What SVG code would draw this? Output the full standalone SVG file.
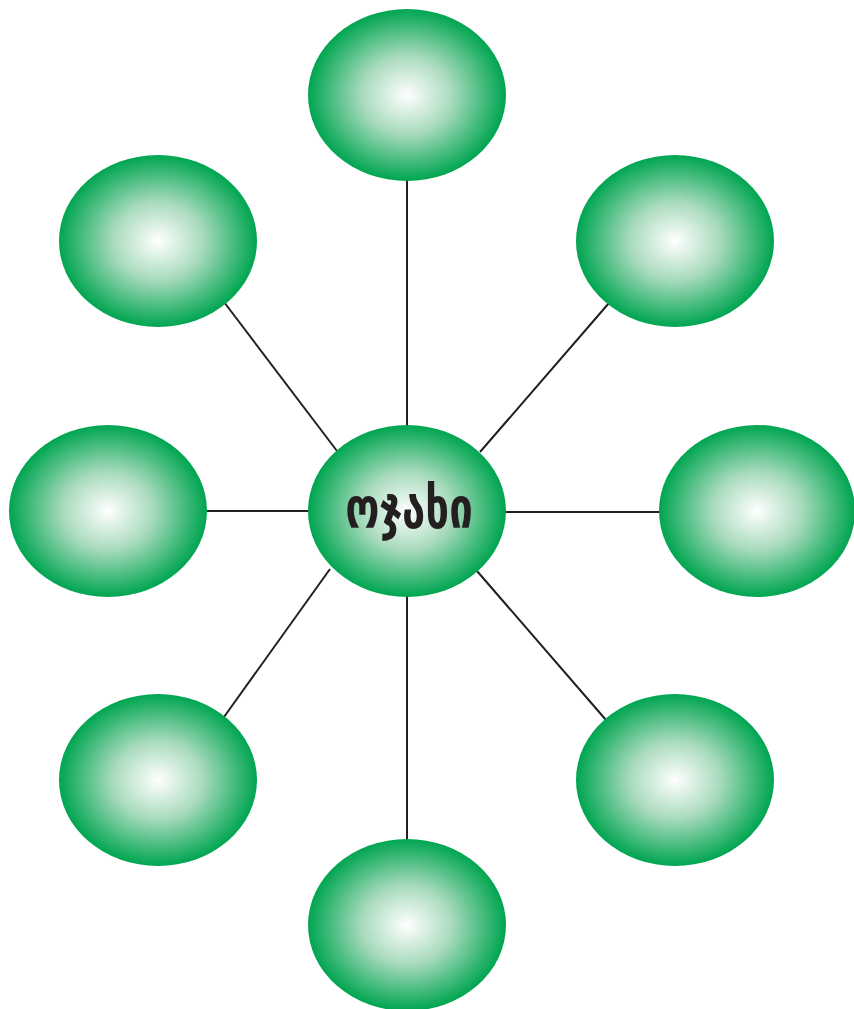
<svg xmlns="http://www.w3.org/2000/svg" width="854" height="1009" viewBox="0 0 854 1009">
<style>
.edge{stroke:#231f20;stroke-width:2;fill:none}
.node{fill:url(#g)}
.lbl{font-family:"DejaVu Sans","Noto Sans",sans-serif;font-weight:bold;font-size:42px;fill:#231f20;text-anchor:middle}
</style>
<defs>
<radialGradient id="g" cx="0.5" cy="0.5" r="0.5">
<stop offset="0" stop-color="#ffffff"/>
<stop offset="0.45" stop-color="#a9dbbd"/>
<stop offset="1" stop-color="#00a551"/>
</radialGradient>
</defs>
<g id="connectors">
<line class="edge" x1="407" y1="180" x2="407" y2="426"/>
<line class="edge" x1="224" y1="302" x2="337" y2="451"/>
<line class="edge" x1="609" y1="303" x2="480" y2="452"/>
<line class="edge" x1="207" y1="511" x2="309" y2="511"/>
<line class="edge" x1="505" y1="512" x2="660" y2="512"/>
<line class="edge" x1="330" y1="569" x2="224" y2="717"/>
<line class="edge" x1="477" y1="571" x2="606" y2="720"/>
<line class="edge" x1="407" y1="596" x2="407" y2="841"/>
</g>
<g id="n-top"><ellipse class="node" cx="407" cy="95" rx="99" ry="86"/></g>
<g id="n-ul"><ellipse class="node" cx="158" cy="241" rx="99" ry="86"/></g>
<g id="n-ur"><ellipse class="node" cx="675" cy="241" rx="99" ry="86"/></g>
<g id="n-left"><ellipse class="node" cx="108" cy="511" rx="99" ry="86"/></g>
<g id="n-right"><ellipse class="node" cx="757" cy="511" rx="98" ry="86"/></g>
<g id="n-ll"><ellipse class="node" cx="158" cy="780" rx="99" ry="86"/></g>
<g id="n-lr"><ellipse class="node" cx="675" cy="780" rx="99" ry="86"/></g>
<g id="n-bottom"><ellipse class="node" cx="407" cy="925" rx="99" ry="86"/></g>
<g id="n-center"><ellipse class="node" cx="407" cy="511" rx="99" ry="86"/>
<text class="lbl" x="0" y="0" transform="translate(409,528) scale(1,1.35)">ოჯახი</text></g>
</svg>
